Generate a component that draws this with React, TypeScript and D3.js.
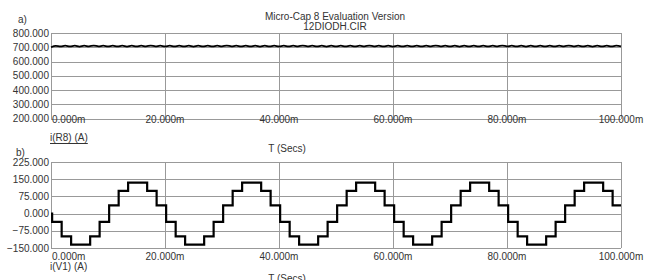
import React, { useEffect, useRef } from 'react'
import * as d3 from 'd3'

// time axis (ms)
const timeTicks = [0, 20, 40, 60, 80, 100]

// a) i(R8) - DC output current, sampled every half ripple period (12-pulse, 600 Hz)
const busSampleStep = 100 / 120
const busCurrent = [
  700, 709, 706, 711, 706, 711, 705, 711, 706, 712, 706, 711,
  706, 711, 706, 711, 705, 711, 706, 711, 706, 712, 706, 711,
  706, 711, 706, 711, 706, 711, 705, 711, 706, 711, 706, 711,
  706, 712, 706, 711, 706, 711, 706, 711, 705, 711, 706, 711,
  706, 711, 706, 711, 706, 712, 706, 711, 706, 711, 705, 711,
  706, 711, 706, 711, 706, 711, 706, 712, 706, 711, 706, 711,
  705, 711, 706, 711, 706, 711, 706, 711, 706, 712, 706, 711,
  706, 711, 705, 711, 706, 711, 706, 711, 706, 711, 706, 712,
  706, 711, 706, 711, 705, 711, 706, 711, 706, 711, 706, 711,
  706, 712, 706, 711, 706, 711, 705, 711, 706, 711, 706, 711,
  706,
]
const busTicks = [800, 700, 600, 500, 400, 300, 200]

// b) i(V1) - stepped line current, step start times (ms) and levels (A)
const lineStepTimes = [
  0,
  0.2, 1.87, 3.53, 6.87, 8.53, 10.2, 11.87, 13.53, 16.87, 18.53,
  20.2, 21.87, 23.53, 26.87, 28.53, 30.2, 31.87, 33.53, 36.87, 38.53,
  40.2, 41.87, 43.53, 46.87, 48.53, 50.2, 51.87, 53.53, 56.87, 58.53,
  60.2, 61.87, 63.53, 66.87, 68.53, 70.2, 71.87, 73.53, 76.87, 78.53,
  80.2, 81.87, 83.53, 86.87, 88.53, 90.2, 91.87, 93.53, 96.87, 98.53,
  100,
]
const lineStepValues = [
  0,
  -36, -99, -135, -99, -36, 36, 99, 135, 99, 36,
  -36, -99, -135, -99, -36, 36, 99, 135, 99, 36,
  -36, -99, -135, -99, -36, 36, 99, 135, 99, 36,
  -36, -99, -135, -99, -36, 36, 99, 135, 99, 36,
  -36, -99, -135, -99, -36, 36, 99, 135, 99, 36,
  36,
]
const lineTicks = [225, 150, 75, 0, -75, -150]

const W = 645
const H = 280
const FONT = '"Liberation Sans", Arial, sans-serif'
const TEXT = '#333'
const GRID = '#999'

const App: React.FC = () => {
  const ref = useRef<SVGSVGElement>(null)

  useEffect(() => {
    if (!ref.current) return
    const svg = d3.select(ref.current)
    svg.selectAll('*').remove()

    const x = d3.scaleLinear().domain([0, 100]).range([51, 621])
    const fmt = d3.format('.3f')

    const txt = (tx: number, ty: number, s: string, anchor = 'start') =>
      svg
        .append('text')
        .attr('x', tx)
        .attr('y', ty)
        .attr('text-anchor', anchor)
        .attr('font-family', FONT)
        .attr('font-size', 10)
        .attr('fill', TEXT)
        .text(s)

    const panel = (
      y: d3.ScaleLinear<number, number>,
      ticks: number[],
      xLabelY: number,
    ) => {
      const g = svg.append('g').attr('shape-rendering', 'crispEdges')
      const [y0, y1] = y.range()
      ticks.forEach(v => {
        g.append('line')
          .attr('x1', x(0)).attr('x2', x(100))
          .attr('y1', Math.round(y(v)) + 0.5).attr('y2', Math.round(y(v)) + 0.5)
          .attr('stroke', GRID)
        txt(49, y(v) + 3.6, fmt(v), 'end')
      })
      timeTicks.forEach((t, i) => {
        g.append('line')
          .attr('x1', Math.round(x(t)) + 0.5).attr('x2', Math.round(x(t)) + 0.5)
          .attr('y1', y0).attr('y2', y1)
          .attr('stroke', GRID)
        if (i === 0) txt(x(t) + 1, xLabelY, fmt(t) + 'm', 'start')
        else txt(x(t), xLabelY, fmt(t) + 'm', 'middle')
      })
    }

    // title
    txt(335, 20, 'Micro-Cap 8 Evaluation Version', 'middle')
    txt(335, 30, '12DIODH.CIR', 'middle')

    // panel a
    const yA = d3.scaleLinear().domain([200, 800]).range([118.5, 33])
    txt(18, 23, 'a)')
    panel(yA, busTicks, 123)
    const lineA = d3
      .line<number>()
      .x((_, i) => x(i * busSampleStep))
      .y(d => yA(d))
      .curve(d3.curveMonotoneX)
    svg
      .append('path')
      .attr('d', lineA(busCurrent))
      .attr('fill', 'none')
      .attr('stroke', '#000')
      .attr('stroke-width', 1.8)
    const lab = txt(50, 141, 'i(R8) (A)')
    const lw = (lab.node() as SVGTextElement).getComputedTextLength()
    svg
      .append('line')
      .attr('x1', 50).attr('x2', 50 + lw)
      .attr('y1', 143.5).attr('y2', 143.5)
      .attr('stroke', TEXT)
    txt(287, 152, 'T (Secs)', 'middle')

    // panel b
    const yB = d3.scaleLinear().domain([-150, 225]).range([248, 162])
    txt(16, 155.5, 'b)')
    panel(yB, lineTicks, 260)
    const lineB = d3
      .line<number>()
      .x(d => x(lineStepTimes[d]))
      .y(d => yB(lineStepValues[d]))
      .curve(d3.curveStepAfter)
    svg
      .append('path')
      .attr('d', lineB(d3.range(lineStepTimes.length)))
      .attr('fill', 'none')
      .attr('stroke', '#000')
      .attr('stroke-width', 2.2)
    txt(50, 270, 'i(V1) (A)')
    txt(287, 282, 'T (Secs)', 'middle')
  }, [])

  return (
    <svg
      ref={ref}
      width={W}
      height={H}
      style={{ position: 'absolute', left: 0, top: 0, background: '#fff' }}
    />
  )
}

export default App
